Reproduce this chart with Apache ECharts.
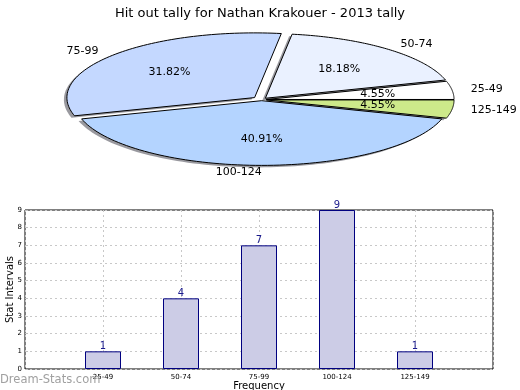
<!DOCTYPE html>
<html><head><meta charset="utf-8">
<script src="https://cdn.jsdelivr.net/npm/echarts@6/dist/echarts.min.js"></script>
<style>html,body{margin:0;padding:0;background:#fff}#c{width:520px;height:390px}</style>
</head><body><div id="c"></div>
<script>
const titleText = 'Hit out tally for Nathan Krakouer - 2013 tally';
const categories = ['25-49', '50-74', '75-99', '100-124', '125-149'];
const counts = [1, 4, 7, 9, 1];
const yTicks = [0, 1, 2, 3, 4, 5, 6, 7, 8, 9];

const sliceColors = ['#ffffff', '#eaf1ff', '#c4d8ff', '#b4d4ff', '#cde98a'];
const explode = [0.025, 0.03, 0.05, 0.015, 0.025];
const FONT = 'DejaVu Sans';

const total = counts.reduce((a, b) => a + b, 0);
const starts = [];
let acc = 0;
counts.forEach(v => { starts.push(acc / total * 2 * Math.PI); acc += v; });

function wedgePoints(api, i) {
  const a0 = starts[i], a1 = a0 + counts[i] / total * 2 * Math.PI;
  const mid = (a0 + a1) / 2;
  const ox = explode[i] * Math.cos(mid), oy = explode[i] * Math.sin(mid);
  const pts = [api.coord([ox, oy])];
  const N = 80;
  for (let k = 0; k <= N; k++) {
    const a = a0 + (a1 - a0) * k / N;
    pts.push(api.coord([ox + Math.cos(a), oy + Math.sin(a)]));
  }
  return {pts, mid, ox, oy};
}

const chart = echarts.init(document.getElementById('c'));
const option = {
  animation: false,
  title: {text: titleText, left: 'center', top: 2,
    textStyle: {fontFamily: FONT, fontSize: 13, fontWeight: 'normal', color: '#000'}},
  graphic: [{type: 'text', left: 0, top: 374, z: 100,
    style: {text: 'Dream-Stats.com', fontFamily: FONT, fontSize: 11.5, fill: '#a0a0a0'}}],
  grid: [
    {left: 8.3, width: 506.8, top: 22.06, height: 155.3, show: false, containLabel: false, outerBoundsMode: 'none'},
    {left: 25, width: 468, top: 210, height: 159, show: true, borderColor: '#000', borderWidth: 1,
      backgroundColor: 'transparent', containLabel: false, outerBoundsMode: 'none'}
  ],
  xAxis: [
    {gridIndex: 0, type: 'value', min: -1.35, max: 1.35, show: false},
    {gridIndex: 1, type: 'value', min: 0, max: 6, interval: 1,
      name: 'Frequency', nameLocation: 'middle', nameGap: 12, nameMoveOverlap: false,
      nameTextStyle: {fontFamily: FONT, fontSize: 10, color: '#000'},
      axisLine: {show: false}, axisTick: {show: false},
      axisLabel: {fontFamily: FONT, fontSize: 7, color: '#000', margin: 5,
        formatter: v => categories[v - 1] || ''},
      splitLine: {show: true, lineStyle: {type: [2, 3], color: '#c8c8c8', width: 1}}}
  ],
  yAxis: [
    {gridIndex: 0, type: 'value', min: -1.2, max: 1.2, show: false},
    {gridIndex: 1, type: 'value', min: 0, max: 9, interval: 1,
      name: 'Stat Intervals', nameLocation: 'middle', nameGap: 10, nameMoveOverlap: false,
      nameTextStyle: {fontFamily: FONT, fontSize: 10, color: '#000'},
      axisLine: {show: false},
      axisTick: {show: true, inside: true, length: 3, lineStyle: {color: '#c0c0c0'}},
      axisLabel: {fontFamily: FONT, fontSize: 7, color: '#000', margin: 3,
        formatter: v => yTicks.indexOf(v) >= 0 ? String(v) : ''},
      splitLine: {show: true, lineStyle: {type: [2, 3], color: '#c8c8c8', width: 1}}}
  ],
  series: [
    {type: 'custom', xAxisIndex: 0, yAxisIndex: 0, data: counts.map((v, i) => [i, v]), z: 1,
      renderItem: (params, api) => {
        const i = params.dataIndex;
        const w = wedgePoints(api, i);
        return {type: 'polygon', x: -3, y: 2,
          shape: {points: w.pts},
          style: {fill: 'rgba(70,70,80,0.55)', stroke: null}};
      }},
    {type: 'custom', xAxisIndex: 0, yAxisIndex: 0, data: counts.map((v, i) => [i, v]), z: 2,
      renderItem: (params, api) => {
        const i = params.dataIndex;
        const w = wedgePoints(api, i);
        const cm = Math.cos(w.mid), sm = Math.sin(w.mid);
        const lp = api.coord([w.ox + 1.1 * cm, w.oy + 1.1 * sm]);
        const pp = api.coord([w.ox + 0.6 * cm, w.oy + 0.6 * sm]);
        const pct = (counts[i] / total * 100).toFixed(2) + '%';
        return {type: 'group', children: [
          {type: 'polygon', shape: {points: w.pts},
            style: {fill: sliceColors[i], stroke: '#000', lineWidth: 1}},
          {type: 'text', x: lp[0], y: lp[1], z2: 5,
            style: {text: categories[i], fontFamily: FONT, fontSize: 11, fill: '#000',
              align: cm < 0 ? 'right' : 'left', verticalAlign: 'middle'}},
          {type: 'text', x: pp[0], y: pp[1], z2: 5,
            style: {text: pct, fontFamily: FONT, fontSize: 11, fill: '#000',
              align: 'center', verticalAlign: 'middle'}}
        ]};
      }},
    {type: 'bar', xAxisIndex: 1, yAxisIndex: 1, barWidth: 36,
      data: counts.map((v, i) => [i + 1, v]),
      itemStyle: {color: '#ccccE6', borderColor: '#000080', borderWidth: 1},
      label: {show: true, position: 'top', distance: 0, fontFamily: FONT, fontSize: 10, color: '#1a1a8c'}}
  ]
};
chart.setOption(option);
</script></body></html>
